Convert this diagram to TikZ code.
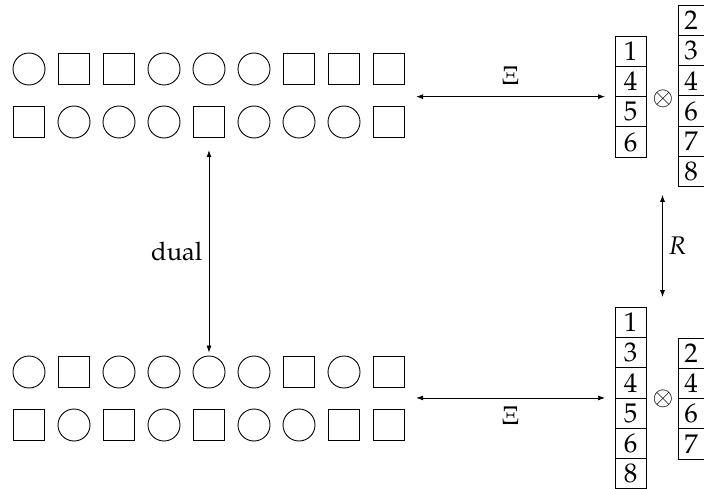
\documentclass[tikz,border=0pt]{standalone}
\usepackage[T1]{fontenc}
\usepackage{mathpazo}
\usetikzlibrary{arrows.meta,positioning,calc}
\begin{document}
\begin{tikzpicture}[x=1pt,y=-1pt,
  every node/.style={font=\fontsize{25.5}{30}\selectfont},
  circ/.style={draw, circle, minimum size=32pt, inner sep=0pt, line width=0.9pt},
  sq/.style={draw, rectangle, minimum size=31.5pt, inner sep=0pt, line width=0.9pt},
  cell/.style={draw, rectangle, minimum width=31pt, minimum height=30.3pt, inner sep=0pt, outer sep=0pt, line width=0.9pt, font=\fontsize{27}{30}\selectfont},
  rcell/.style={cell, minimum width=26pt},
  arr/.style={{Latex[length=7pt,width=5pt]}-{Latex[length=7pt,width=5pt]}, line width=0.7pt}]
\useasboundingbox (0,0) rectangle (704,489);
% rows of shapes
\foreach \s [count=\i] in {circ,sq,sq,circ,circ,circ,sq,sq,sq}
  \node[\s] (a\i) at ({29+45*(\i-1)},69) {};
\foreach \s [count=\i] in {sq,circ,circ,circ,sq,circ,circ,circ,sq}
  \node[\s] (b\i) at ({29+45*(\i-1)},122) {};
\foreach \s [count=\i] in {circ,sq,circ,circ,circ,circ,sq,circ,sq}
  \node[\s] (c\i) at ({29+45*(\i-1)},372) {};
\foreach \s [count=\i] in {sq,circ,sq,circ,sq,circ,circ,sq,sq}
  \node[\s] (d\i) at ({29+45*(\i-1)},425) {};
% top tableaux
\node[cell] (tA1) at (630.5,51.2) {1};
\node[cell, below=0pt of tA1] (tA2) {4};
\node[cell, below=0pt of tA2] (tA3) {5};
\node[cell, below=0pt of tA3] (tA4) {6};
\node (ot1) at (663,98.5) {$\otimes$};
\node[rcell] (tB1) at (691,20.2) {2};
\node[rcell, below=0pt of tB1] (tB2) {3};
\node[rcell, below=0pt of tB2] (tB3) {4};
\node[rcell, below=0pt of tB3] (tB4) {6};
\node[rcell, below=0pt of tB4] (tB5) {7};
\node[rcell, below=0pt of tB5] (tB6) {8};
% bottom tableaux
\node[cell] (tC1) at (630.5,322.2) {1};
\node[cell, below=0pt of tC1] (tC2) {3};
\node[cell, below=0pt of tC2] (tC3) {4};
\node[cell, below=0pt of tC3] (tC4) {5};
\node[cell, below=0pt of tC4] (tC5) {6};
\node[cell, below=0pt of tC5] (tC6) {8};
\node (ot2) at (663,399) {$\otimes$};
\node[rcell] (tD1) at (691,353.1) {2};
\node[rcell, below=0pt of tD1] (tD2) {4};
\node[rcell, below=0pt of tD2] (tD3) {6};
\node[rcell, below=0pt of tD3] (tD4) {7};
% arrows
\draw[arr] ($(a9.east |- tA2.south west)+(11,0)$) -- node[pos=0.5, yshift=20.5pt] (xi1) {$\Xi$} ($(tA2.south west)+(-10,0)$);
\draw[arr] ($(c9.east |- tC3.south west)+(11,0)$) -- node[pos=0.5, yshift=-17.5pt] (xi2) {$\Xi$} ($(tC3.south west)+(-10,0)$);
\draw[arr] ($(b5.south)+(0,12)$) -- node[midway, left, xshift=-3pt] (du) {dual} ($(c5.north)+(0,-3)$);
\draw[arr] ($(ot1 |- tB6.south)+(-0.5,8)$) -- node[midway, right=2pt] (rr) {$R$} ($(ot2 |- tC1.north)+(-0.5,-10)$);
\end{tikzpicture}
\end{document}
